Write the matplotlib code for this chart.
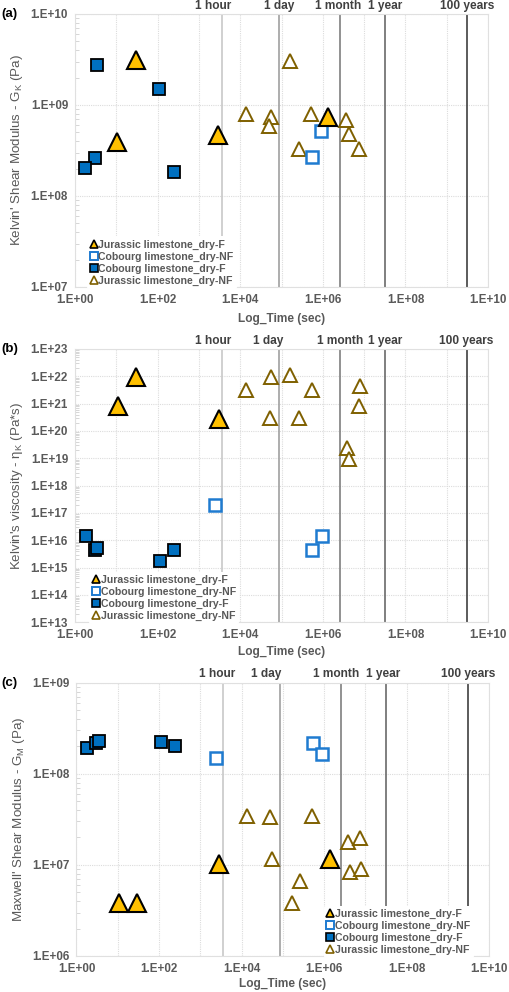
import numpy as np
import matplotlib
matplotlib.use("Agg")
import matplotlib.pyplot as plt
from matplotlib.lines import Line2D
from matplotlib.ticker import FixedLocator, FuncFormatter, NullFormatter

plt.rcParams['font.family'] = ['Liberation Sans', 'DejaVu Sans']

# ---- data (time in sec, value) ----
# (a) Kelvin shear modulus G_K (Pa)
a_jur_f_t = [29.5, 10.5, 2830, 1.35e6]
a_jur_f_v = [3.1e9, 3.95e8, 4.7e8, 7.4e8]
a_cob_nf_t = [8.9e5, 5.5e5]
a_cob_nf_v = [5.2e8, 2.66e8]
a_cob_f_t = [3.4, 110, 3.0, 1.78, 245]
a_cob_f_v = [2.75e9, 1.5e9, 2.6e8, 2.05e8, 1.84e8]
a_jur_nf_t = [1.6e5, 1.37e4, 5.6e4, 5.0e4, 5.3e5, 2.6e5, 3.7e6, 4.26e6, 7.4e6]
a_jur_nf_v = [3.05e9, 7.9e8, 7.4e8, 5.9e8, 7.9e8, 3.3e8, 6.8e8, 4.8e8, 3.3e8]

# (b) Kelvin viscosity eta_K (Pa*s)
b_jur_f_t = [30.5, 11.2, 2990]
b_jur_f_v = [9.7e21, 8.2e20, 2.7e20]
b_cob_nf_t = [2520, 9.3e5, 5.5e5]
b_cob_nf_v = [1.95e17, 1.48e16, 4.4e15]
b_cob_f_t = [1.81, 3.05, 3.5, 112, 248]
b_cob_f_v = [1.48e16, 4.4e15, 5.4e15, 1.8e15, 4.4e15]
b_jur_nf_t = [5.7e4, 1.62e5, 1.4e4, 5.4e5, 7.9e6, 7.7e6, 5.2e4, 2.7e5, 3.9e6, 4.3e6]
b_jur_nf_v = [9.7e21, 1.1e22, 3.16e21, 3.2e21, 4.4e21, 8.4e20, 2.9e20, 2.9e20, 2.3e19, 9.1e18]

# (c) Maxwell shear modulus G_M (Pa)
c_jur_f_t = [10.8, 29, 2860, 1.38e6]
c_jur_f_v = [3.8e6, 3.8e6, 1.02e7, 1.15e7]
c_cob_nf_t = [2460, 5.5e5, 9.1e5]
c_cob_nf_v = [1.5e8, 2.16e8, 1.66e8]
c_cob_f_t = [1.75, 3.05, 3.5, 110, 246]
c_cob_f_v = [1.9e8, 2.2e8, 2.29e8, 2.23e8, 2.0e8]
c_jur_nf_t = [1.37e4, 5.0e4, 5.2e5, 3.83e6, 7.6e6, 5.6e4, 4.37e6, 8.05e6, 2.68e5, 1.65e5]
c_jur_nf_v = [3.47e7, 3.38e7, 3.47e7, 1.8e7, 1.95e7, 1.16e7, 8.4e6, 9.0e6, 6.65e6, 3.85e6]

time_labels = ["1 hour", "1 day", "1 month", "1 year", "100 years"]
time_secs = [3600, 86400, 2.592e6, 3.1536e7, 3.1536e9]
time_colors = ['#C8C8C8', '#A0A0A0', '#7F7F7F', '#6A6A6A', '#404040']

legend_labels = ["Jurassic limestone_dry-F", "Cobourg limestone_dry-NF",
                 "Cobourg limestone_dry-F", "Jurassic limestone_dry-NF"]

YEL = '#FFC000'
BLUE = '#0070C0'
OBLUE = '#1F7BD0'
BROWN = '#7F6000'
GRAY = '#595959'

fig = plt.figure(figsize=(5.10, 9.92), dpi=100)

# axes rectangles in figure fraction
rects = [[0.147, 0.7107, 0.810, 0.2752],
         [0.147, 0.3727, 0.810, 0.2755],
         [0.150, 0.0363, 0.809, 0.2755]]

panels = [
    dict(tag="(a)", ylim=(7, 10), ylabel="Kelvin' Shear Modulus - G$_\\mathregular{K}$ (Pa)",
         data=[(a_jur_f_t, a_jur_f_v), (a_cob_nf_t, a_cob_nf_v), (a_cob_f_t, a_cob_f_v), (a_jur_nf_t, a_jur_nf_v)],
         lab_shift=[-0.22, 0.0, -0.05, 0.0, 0.0], leg=(0.025, -0.015), xlab_y=-0.095),
    dict(tag="(b)", ylim=(13, 23), ylabel="Kelvin's viscosity - \u03b7$_\\mathregular{K}$ (Pa*s)",
         data=[(b_jur_f_t, b_jur_f_v), (b_cob_nf_t, b_cob_nf_v), (b_cob_f_t, b_cob_f_v), (b_jur_nf_t, b_jur_nf_v)],
         lab_shift=[-0.22, -0.27, 0.0, 0.0, -0.03], leg=(0.03, -0.015), xlab_y=-0.085),
    dict(tag="(c)", ylim=(6, 9), ylabel="Maxwell' Shear Modulus - G$_\\mathregular{M}$ (Pa)",
         data=[(c_jur_f_t, c_jur_f_v), (c_cob_nf_t, c_cob_nf_v), (c_cob_f_t, c_cob_f_v), (c_jur_nf_t, c_jur_nf_v)],
         lab_shift=[-0.16, -0.33, -0.12, -0.07, 0.0], leg=(0.595, -0.015), xlab_y=-0.082),
]

def fmt_exp(v, pos):
    e = int(round(np.log10(v)))
    return "1.E+%02d" % e

x_major = [10.0 ** k for k in range(0, 11, 2)]
x_minor = [10.0 ** k for k in range(1, 10, 2)]

for rect, p in zip(rects, panels):
    ax = fig.add_axes(rect)
    ax.set_xscale('log')
    ax.set_yscale('log')
    lo, hi = p['ylim']
    ax.set_xlim(1, 1e10)
    ax.set_ylim(10.0 ** lo, 10.0 ** hi)

    y_major = [10.0 ** k for k in range(lo, hi + 1)]
    y_minor = [m * 10.0 ** k for k in range(lo, hi) for m in range(2, 10)]
    ax.xaxis.set_major_locator(FixedLocator(x_major))
    ax.xaxis.set_minor_locator(FixedLocator(x_minor))
    ax.xaxis.set_minor_formatter(NullFormatter())
    ax.yaxis.set_major_locator(FixedLocator(y_major))
    ax.yaxis.set_minor_locator(FixedLocator(y_minor))
    ax.yaxis.set_minor_formatter(NullFormatter())
    ax.xaxis.set_major_formatter(FuncFormatter(fmt_exp))
    ax.yaxis.set_major_formatter(FuncFormatter(fmt_exp))
    ax.grid(True, which='major', axis='both', color='#DCDCDC', lw=0.8, ls=(0, (1, 1)))
    ax.grid(True, which='minor', axis='x', color='#DCDCDC', lw=0.8, ls=(0, (1, 1)))
    ax.set_axisbelow(True)
    for s in ax.spines.values():
        s.set_color('#E0E0E0')
        s.set_linewidth(0.8)
    ax.tick_params(axis='both', which='major', length=0, labelsize=8.4, labelcolor=GRAY, pad=5)
    ax.tick_params(axis='x', which='minor', length=0)
    ax.tick_params(axis='y', which='minor', direction='in', length=3, color='#D0D0D0', width=0.6)
    for t in ax.get_xticklabels() + ax.get_yticklabels():
        t.set_fontweight('bold')

    # time reference lines and labels
    for lab, sec, col, sh in zip(time_labels, time_secs, time_colors, p['lab_shift']):
        ax.axvline(sec, color=col, lw=1.2, zorder=1)
        ax.annotate(lab, xy=(sec * 10 ** sh, 1.0), xycoords=('data', 'axes fraction'),
                    xytext=(0, 6), textcoords='offset points', ha='center', va='center',
                    fontsize=8.6, fontweight='bold', color='#404040', annotation_clip=False)

    (jf, cnf, cf, jnf) = p['data']
    ax.plot(jnf[0], jnf[1], ls='none', marker='^', ms=9.5, mfc='white', mec=BROWN, mew=1.4, zorder=3)
    ax.plot(cnf[0], cnf[1], ls='none', marker='s', ms=9.0, mfc='white', mec=OBLUE, mew=1.8, zorder=3)
    ax.plot(cf[0], cf[1], ls='none', marker='s', ms=8.8, mfc=BLUE, mec='black', mew=1.3, zorder=4)
    ax.plot(jf[0], jf[1], ls='none', marker='^', ms=13, mfc=YEL, mec='black', mew=1.5, zorder=5)

    ax.set_xlabel("Log_Time (sec)", fontsize=8.6, fontweight='bold', color=GRAY)
    ax.xaxis.set_label_coords(0.5, p['xlab_y'])
    ax.set_ylabel(p['ylabel'], fontsize=9.6, color=GRAY, labelpad=4)

    handles = [
        Line2D([], [], ls='none', marker='^', ms=5.5, mfc=YEL, mec='black', mew=1.2),
        Line2D([], [], ls='none', marker='s', ms=5.5, mfc='white', mec=OBLUE, mew=1.4),
        Line2D([], [], ls='none', marker='s', ms=5.5, mfc=BLUE, mec='black', mew=1.2),
        Line2D([], [], ls='none', marker='^', ms=5.5, mfc='white', mec=BROWN, mew=1.2),
    ]
    leg = ax.legend(handles, legend_labels, loc='lower left', bbox_to_anchor=p['leg'],
                    frameon=True, facecolor='white', edgecolor='none', framealpha=1,
                    fontsize=7.6, handlelength=0.6, handletextpad=0.15, labelspacing=0.18,
                    borderpad=0.3, borderaxespad=0.2)
    leg.set_zorder(6)
    for t in leg.get_texts():
        t.set_color(GRAY)
        t.set_fontweight('bold')

    # panel tag, pinned to the figure's left edge
    fig.text(0.003, rect[1] + rect[3], p['tag'], fontsize=9.6, fontweight='bold',
             color='black', ha='left', va='center')

fig.savefig("out.png", dpi=100)
